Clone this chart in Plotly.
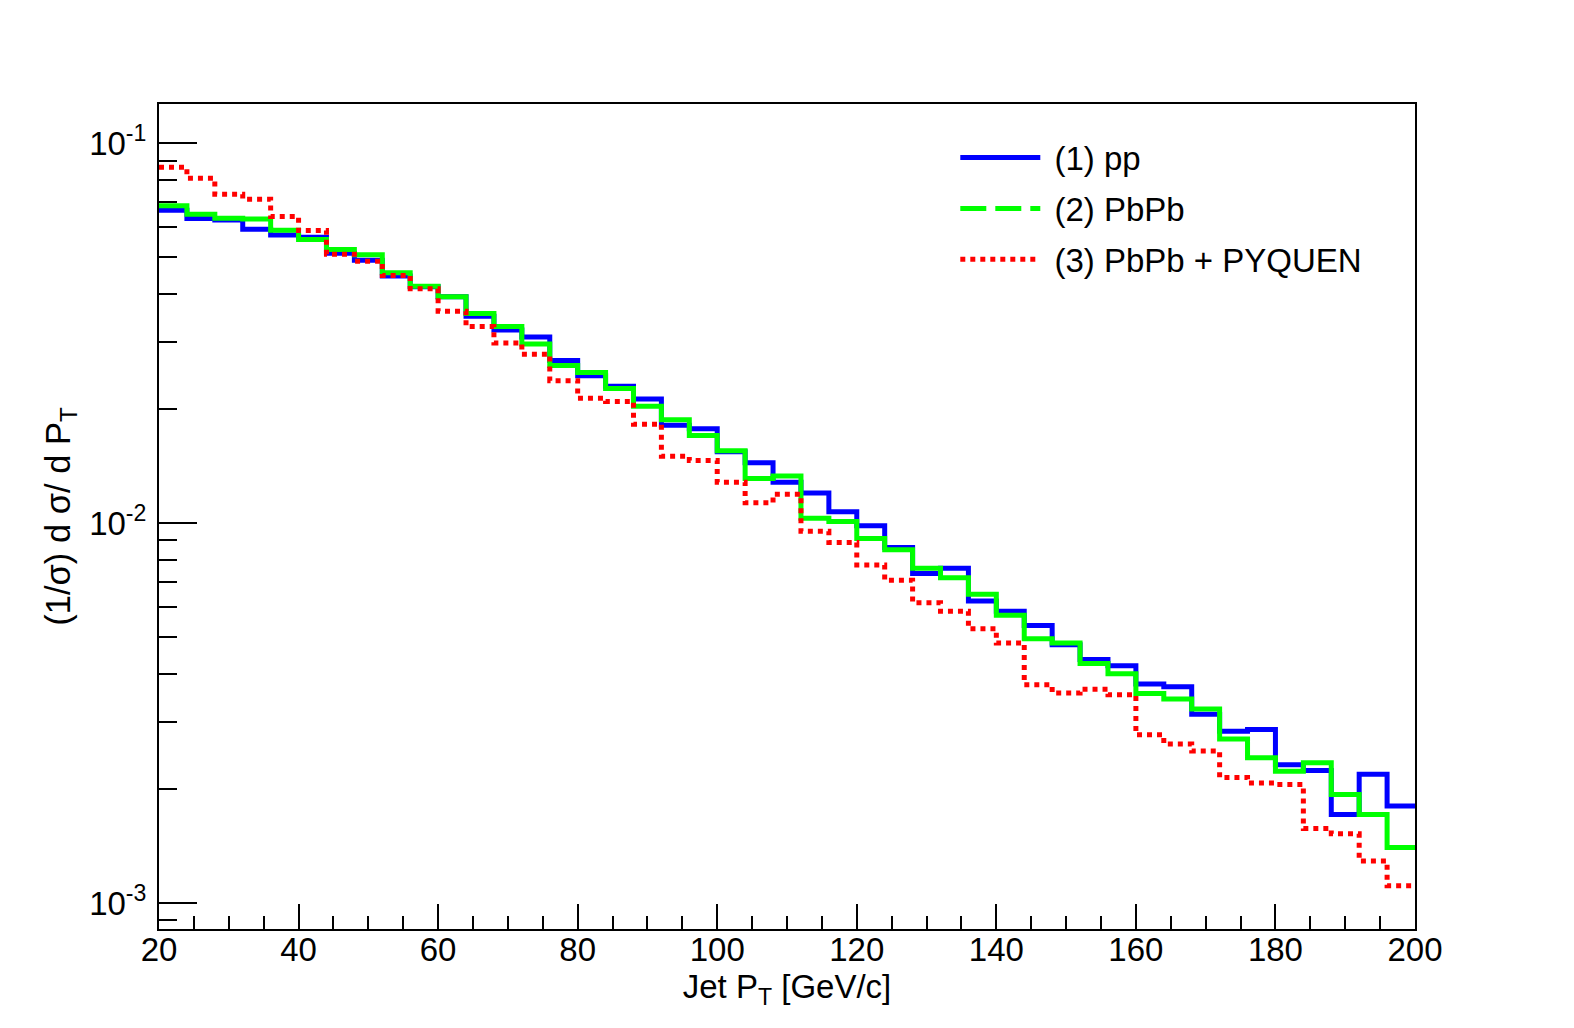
import plotly.graph_objects as go

# bin edges 20..200 GeV/c, 4 GeV wide
edges = list(range(20, 204, 4))

pp = [0.0666, 0.0633, 0.0628, 0.0593, 0.0573, 0.0565, 0.0513, 0.0492, 0.0447, 0.0419,
      0.0394, 0.0350, 0.0322, 0.0309, 0.0268, 0.0244, 0.0229, 0.0212, 0.0181, 0.0177,
      0.0154, 0.0144, 0.0128, 0.0120, 0.0107, 0.00984, 0.00862, 0.00737, 0.00760, 0.00623,
      0.00586, 0.00537, 0.00478, 0.00437, 0.00421, 0.00377, 0.00371, 0.00314, 0.00283, 0.00286,
      0.00231, 0.00223, 0.00171, 0.00218, 0.00180]

pbpb = [0.0684, 0.0650, 0.0634, 0.0631, 0.0590, 0.0558, 0.0525, 0.0508, 0.0456, 0.0420,
        0.0394, 0.0356, 0.0329, 0.0296, 0.0260, 0.0249, 0.0226, 0.0203, 0.0187, 0.0170,
        0.0155, 0.0131, 0.0133, 0.0103, 0.0101, 0.00911, 0.00850, 0.00760, 0.00718, 0.00649,
        0.00572, 0.00496, 0.00483, 0.00427, 0.00401, 0.00356, 0.00344, 0.00324, 0.00270, 0.00241,
        0.00222, 0.00234, 0.00193, 0.00171, 0.00140]

pyquen = [0.0864, 0.0808, 0.0734, 0.0712, 0.0641, 0.0589, 0.0510, 0.0489, 0.0448, 0.0414,
          0.0361, 0.0329, 0.0298, 0.0278, 0.0237, 0.0213, 0.0209, 0.0182, 0.0150, 0.0146,
          0.0128, 0.0113, 0.0119, 0.00951, 0.00889, 0.00776, 0.00707, 0.00617, 0.00586, 0.00527,
          0.00483, 0.00375, 0.00357, 0.00365, 0.00353, 0.00277, 0.00262, 0.00251, 0.00214, 0.00207,
          0.00205, 0.00157, 0.00152, 0.00129, 0.00111]

names = ["(1) pp", "(2) PbPb", "(3) PbPb + PYQUEN"]
colors = ["#0000ff", "#00ff00", "#ff0000"]

xticks = [20, 40, 60, 80, 100, 120, 140, 160, 180, 200]
xminor = list(range(20, 205, 5))
yticks = [0.001, 0.01, 0.1]
yticktext = ["10<sup>-3</sup>", "10<sup>-2</sup>", "10<sup>-1</sup>"]
yminor = [m * 10.0 ** e for e in (-4, -3, -2, -1) for m in range(2, 10)]

fig = go.Figure()

plot_dash = ["solid", "solid", "5px,5px"]
leg_dash = ["solid", "26px,9px", "5px,5px"]
for vals, c, d in zip([pp, pbpb, pyquen], colors, plot_dash):
    fig.add_trace(go.Scatter(x=edges, y=vals + [vals[-1]], mode="lines",
                             line=dict(color=c, width=5, dash=d, shape="hv"),
                             showlegend=False))

# legend entries (green drawn dashed in the legend only)
for i, (n, c, d) in enumerate(zip(names, colors, leg_dash)):
    fig.add_trace(go.Scatter(x=[None], y=[None], mode="lines", name="\u00a0" + n,
                             legendgroup=f"g{i}",
                             line=dict(color=c, width=5, dash=d)))

fig.update_layout(
    width=1574, height=1028,
    margin=dict(l=151, r=167, t=96, b=107),
    paper_bgcolor="white", plot_bgcolor="white",
    font=dict(family="Liberation Sans, Arial, sans-serif", size=28, color="black"),
    legend=dict(x=0.634, y=0.969, xanchor="left", yanchor="top",
                bgcolor="rgba(0,0,0,0)", font=dict(size=33),
                itemwidth=80, tracegroupgap=5),
)

fig.update_xaxes(range=[20, 200], showline=True, mirror=True, linecolor="black", linewidth=2,
                 showgrid=False, zeroline=False, ticks="inside", ticklen=25, tickwidth=2,
                 tickcolor="black", tickvals=xticks, tickfont=dict(size=33),
                 ticklabelstandoff=-10, automargin=False,
                 minor=dict(tickvals=xminor, ticks="inside", ticklen=13, tickwidth=2,
                            tickcolor="black", showgrid=False),
                 title=dict(text="Jet P<sub>T</sub> [GeV/c]", standoff=0, font=dict(size=33)))

fig.update_yaxes(type="log", range=[-3.0686, -0.897], showline=True, mirror=True,
                 linecolor="black", linewidth=2, showgrid=False, zeroline=False,
                 ticks="inside", ticklen=38, tickwidth=2, tickcolor="black",
                 tickvals=yticks, ticktext=yticktext, tickfont=dict(size=33),
                 ticklabelstandoff=4, automargin=False,
                 minor=dict(tickvals=yminor, ticks="inside", ticklen=18, tickwidth=2,
                            tickcolor="black", showgrid=False),
                 title=dict(text="(1/σ) d σ/ d P<sub>T</sub>", standoff=8, font=dict(size=34.5)))

fig.write_html("out.html")
